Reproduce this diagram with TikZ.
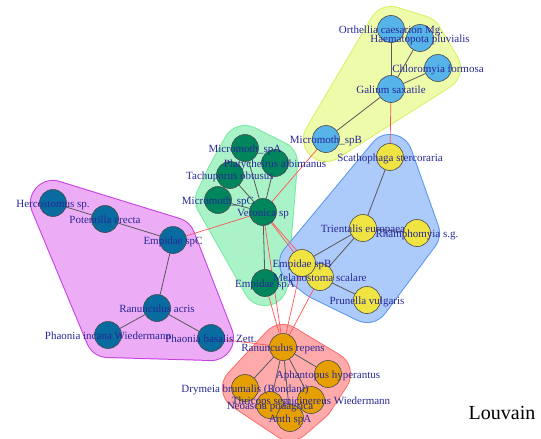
\documentclass[tikz,border=0pt]{standalone}
\usepackage{fontspec}
\setmainfont{Liberation Serif}
\usepackage{tikz}

\definecolor{nodesky}{RGB}{86,180,233}
\definecolor{nodegreen}{RGB}{0,133,92}
\definecolor{nodeblue}{RGB}{8,108,160}
\definecolor{nodeyellow}{RGB}{240,228,66}
\definecolor{nodeorange}{RGB}{230,159,0}
\definecolor{lblblue}{RGB}{40,40,150}
\definecolor{xred}{RGB}{255,85,85}
\definecolor{hullyg}{RGB}{238,251,170}
\definecolor{hullygline}{RGB}{214,242,96}
\definecolor{hullgr}{RGB}{170,242,200}
\definecolor{hullgrline}{RGB}{120,236,160}
\definecolor{hullmg}{RGB}{236,172,246}
\definecolor{hullmgline}{RGB}{200,60,230}
\definecolor{hullbl}{RGB}{172,202,250}
\definecolor{hullblline}{RGB}{90,150,240}
\definecolor{hullrd}{RGB}{255,170,170}
\definecolor{hullrdline}{RGB}{255,110,110}

\pgfdeclarelayer{hulls}
\pgfdeclarelayer{edges}
\pgfsetlayers{hulls,edges,main}

\tikzset{
  vtx/.style={circle, draw=black!70, line width=0.6pt, minimum size=27pt, inner sep=0pt},
  lbl/.style={font=\fontsize{11}{13}\selectfont, text=lblblue, inner sep=0pt,
    text height=0.7em, text depth=0.2em, yshift=-1.5pt},
  inedge/.style={draw=black!65, line width=0.8pt},
  xedge/.style={draw=xred, line width=0.7pt},
  hullrim/.style={line width=46pt, line join=round},
  hullbody/.style={line width=44pt, line join=round}
}

% group outline: fill colour, rim colour, path through the outer vertices
\newcommand{\grouphull}[3]{%
  \draw[hullrim, draw=#2] #3 -- cycle;
  \draw[hullbody, draw=#1, fill=#1] #3 -- cycle;}

\begin{document}
\begin{tikzpicture}[x=1pt, y=-1pt]
  \useasboundingbox (0,0) rectangle (541,439);

  % vertices
  \foreach \id/\x/\y/\col in {
    orth/391/29/nodesky, haem/420/38/nodesky, chlo/438/68/nodesky,
    gali/391/89/nodesky, mB/326/139/nodesky,
    mA/245/148/nodegreen, plat/275/163/nodegreen, tach/230/175/nodegreen,
    mC/218/200/nodegreen, vero/263/212/nodegreen, empA/265/283/nodegreen,
    herc/53/203/nodeblue, pot/105/219/nodeblue, spC/173/240/nodeblue,
    racr/157/308/nodeblue, pinc/108/335/nodeblue, pbas/211/338/nodeblue,
    scat/390/157/nodeyellow, trie/363/228/nodeyellow, rham/417/233/nodeyellow,
    mela/320/277/nodeyellow, spB/302/263/nodeyellow, prun/367/300/nodeyellow,
    rrep/283/347/nodeorange, aph/328/374/nodeorange, neo/270/405/nodeorange,
    dry/245/388/nodeorange, thri/311/400/nodeorange, anth/290/418/nodeorange}
    \node[vtx, fill=\col] (\id) at (\x,\y) {};

  % labels
  \foreach \id/\txt in {
    orth/Orthellia caesarion Mg., haem/Haematopota pluvialis,
    chlo/Chloromyia formosa, gali/Galium saxatile, mB/Micromoth\_spB,
    mA/Micromoth\_spA, plat/Platycheirus albimanus, tach/Tachuporus obtusus,
    mC/Micromoth\_spC, vero/Veronica sp, empA/Empidae spA,
    herc/Hercostomus sp., pot/Potentilla erecta, spC/Empidae spC,
    racr/Ranunculus acris, pinc/Phaonia incana Wiedermann, pbas/Phaonia basalis Zett.,
    scat/Scathophaga stercoraria, trie/Trientalis europaea, rham/Rhamphomyia s.g.,
    spB/Empidae spB, mela/Melanostoma scalare, prun/Prunella vulgaris,
    rrep/Ranunculus repens, aph/Aphantopus hyperantus, dry/Drymeia brumalis (Rondani),
    thri/Thricops semicinereus Wiedermann, neo/Neoascia podagrica, anth/Anth spA}
    \node[lbl] (\id-lab) at (\id.center) {\txt};

  \node[font=\fontsize{20}{24}\selectfont, inner sep=0pt] (site) at (502,413) {Louvain};

  \begin{pgfonlayer}{edges}
    \foreach \a/\b in {gali/orth, gali/haem, gali/chlo, gali/mB,
        vero/mA, vero/plat, vero/tach, vero/mC, vero/empA,
        herc/pot, pot/spC, spC/racr, racr/pinc, racr/pbas,
        scat/trie, trie/rham, trie/spB, trie/mela, mela/prun,
        rrep/aph, rrep/dry, rrep/neo, rrep/thri, rrep/anth}
      \draw[inedge] (\a) -- (\b);
    \foreach \a/\b in {gali/scat, mB/vero, vero/spC, vero/spB, vero/mela,
        pbas/rrep, vero/rrep, empA/rrep, spB/rrep, mela/rrep}
      \draw[xedge] (\a) -- (\b);
  \end{pgfonlayer}

  \begin{pgfonlayer}{hulls}
    \grouphull{hullyg}{hullygline}{(orth.center) -- (haem.center) -- (chlo.center) -- (mB.center)}
    \grouphull{hullgr}{hullgrline}{(mA.center) -- (plat.center) -- (empA.center) -- (mC.center) -- (tach.center)}
    \grouphull{hullmg}{hullmgline}{(herc.center) -- (spC.center) -- (pbas.center) -- (pinc.center)}
    \grouphull{hullbl}{hullblline}{(scat.center) -- (rham.center) -- (prun.center) -- (mela.center) -- (spB.center)}
    \grouphull{hullrd}{hullrdline}{(rrep.center) -- (aph.center) -- (thri.center) -- (anth.center) -- (dry.center)}
  \end{pgfonlayer}
\end{tikzpicture}
\end{document}
